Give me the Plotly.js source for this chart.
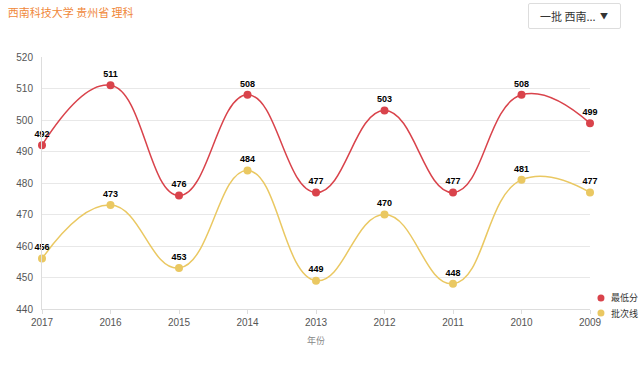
<!DOCTYPE html>
<html><head><meta charset="utf-8">
<script src="https://cdn.plot.ly/plotly-3.0.1.min.js"></script>
<style>
body{margin:0;background:#fff;}
#chart{width:640px;height:365px;position:relative;}
#dd{position:absolute;left:528px;top:3px;width:93px;height:26px;border:1px solid #ddd;border-radius:2px;box-sizing:border-box;font-family:"Noto Sans CJK SC","Liberation Sans",sans-serif;font-size:11px;color:#333;line-height:24px;padding-left:11px;background:#fff;z-index:5;}
#dd span{position:absolute;right:12px;top:0;font-size:8px;color:#333;}
</style></head>
<body>
<div id="chart"></div>
<div id="dd">一批 西南...<span>▼</span></div>
<script>
var years = ["2017","2016","2015","2014","2013","2012","2011","2010","2009"];
var minScore = [492,511,476,508,477,503,477,508,499];
var batchLine = [456,473,453,484,449,470,448,481,477];
var seriesNames = ["最低分","批次线"];
var colors = ["#d9434b","#eac862"];

function tr(y, name, color){
  return {x: years, y: y, name: name, type:'scatter', mode:'lines+markers+text',
    line:{shape:'spline', smoothing:1.3, color: color, width:1.5},
    marker:{size:8, color: color},
    text: y.map(String), textposition:'top center',
    textfont:{family:'Liberation Sans, Arial', size:9, color:'#000', weight:'bold'},
    cliponaxis:false, hoverinfo:'skip', showlegend:false};
}
var data = [tr(minScore, seriesNames[0], colors[0]), tr(batchLine, seriesNames[1], colors[1])];

var legY = [0.044, -0.016];
var shapes = [], annotations = [];
seriesNames.forEach(function(n, i){
  shapes.push({type:'circle', xref:'paper', yref:'paper', xsizemode:'pixel', ysizemode:'pixel',
    xanchor:1.02, yanchor:legY[i], x0:-3.5, x1:3.5, y0:-3.5, y1:3.5,
    fillcolor:colors[i], line:{width:0}});
  annotations.push({xref:'paper', yref:'paper', x:1.034, y:legY[i], xanchor:'left', yanchor:'middle',
    text:n, showarrow:false, font:{family:'Noto Sans CJK SC, sans-serif', size:9, color:'#333'}});
});

var layout = {
  width:640, height:365,
  margin:{l:42, r:50, t:57, b:56},
  paper_bgcolor:'#fff', plot_bgcolor:'#fff',
  title:{text:'西南科技大学 贵州省 理科', x:0.012, xanchor:'left', y:0.975, yanchor:'top',
    font:{family:'Noto Sans CJK SC, sans-serif', size:11, color:'#f0883a'}},
  xaxis:{type:'category', showgrid:false, showline:true, linecolor:'#ddd', linewidth:1,
    ticks:'outside', ticklen:4, tickcolor:'#ddd', range:[0,8],
    tickfont:{family:'Liberation Sans, Arial', size:10, color:'#555'},
    title:{text:'年份', font:{family:'Noto Sans CJK SC, sans-serif', size:9, color:'#888'}, standoff:10},
    zeroline:false},
  yaxis:{range:[440,520], dtick:10, showgrid:true, gridcolor:'#e8e8e8', showline:true, linecolor:'#ddd',
    tickfont:{family:'Liberation Sans, Arial', size:10, color:'#555'}, zeroline:false, ticks:'', ticklabelstandoff:6},
  showlegend:false,
  shapes: shapes,
  annotations: annotations
};
Plotly.newPlot('chart', data, layout, {displayModeBar:false, staticPlot:true});
</script>
</body></html>
